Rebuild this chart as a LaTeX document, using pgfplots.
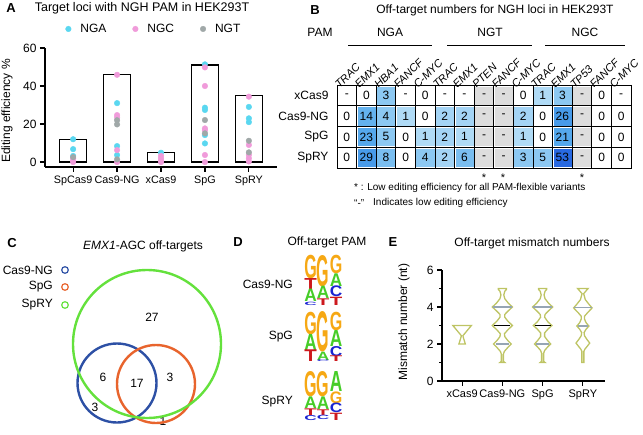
\documentclass[border=0pt]{standalone}
\usepackage{fontspec}
\setmainfont{Liberation Sans}
\setsansfont{Liberation Sans}
\usepackage{graphicx}
\usepackage{pgfplots}
\pgfplotsset{compat=1.18}

\definecolor{ngacyan}{RGB}{90,215,240}
\definecolor{ngcpink}{RGB}{240,155,218}
\definecolor{ngtgray}{RGB}{160,168,168}
\definecolor{cellgray}{RGB}{221,221,221}
\definecolor{bl1}{RGB}{176,219,246}
\definecolor{bl2}{RGB}{164,212,245}
\definecolor{bl3}{RGB}{140,200,242}
\definecolor{bl4}{RGB}{122,190,240}
\definecolor{bl5}{RGB}{100,178,238}
\definecolor{bl6}{RGB}{85,168,236}
\definecolor{bl7}{RGB}{72,155,234}
\definecolor{bl8}{RGB}{40,105,225}
\definecolor{vgreen}{RGB}{100,225,60}
\definecolor{vblue}{RGB}{45,80,165}
\definecolor{vorange}{RGB}{232,100,45}
\definecolor{vcol}{RGB}{190,196,100}
\definecolor{medgray}{RGB}{150,165,180}
\definecolor{lgG}{RGB}{246,168,20}
\definecolor{lgA}{RGB}{70,205,40}
\definecolor{lgT}{RGB}{205,25,30}
\definecolor{lgC}{RGB}{25,35,210}

\newcommand{\fs}[1]{\fontsize{#1}{#1}\selectfont}
% one letter of a sequence logo: x, top y, height, letter, colour
\newcommand{\lgl}[5]{\node[anchor=north,inner sep=0pt,text=#5] at (axis cs:#1,#2) {\resizebox{12.5pt}{#3pt}{\bfseries #4}};}

\pgfplotsset{
  panel/.style={scale only axis,
    /pgf/number format/assume math mode=true,
    yticklabel style={font=\fs{12}},
    axis line style={line width=1.2pt},
    tick style={line width=1.2pt, black},
    tick align=outside},
  cell/.style={only marks, mark=square*, mark size=8.6pt,
    point meta=explicit symbolic, nodes near coords},
}

\begin{document}
\begin{tikzpicture}[font=\fs{12}]
\useasboundingbox (0pt,0pt) rectangle (643pt,-435pt);

% ---------- A ----------
\begin{axis}[panel, at={(45pt,-167pt)}, anchor=south west,
  width=232pt, height=119pt,
  xmin=-0.64, xmax=4.64, ymin=-2.6, ymax=60,
  axis x line*=bottom, axis y line*=left,
  xtick={0,1,2,3,4}, xticklabels={SpCas9,Cas9-NG,xCas9,SpG,SpRY},
  xticklabel style={font=\fs{10.8}},
  ytick={0,20,40,60}, major tick length=5pt,
  clip=false,
  legend columns=3,
  legend image code/.code={\fill[#1] (0pt,0pt) circle (2.8pt);},
  legend style={at={(0.087,1.16)}, anchor=west, draw=none, fill=none,
    inner sep=0pt, font=\fs{12},
    /tikz/every odd column/.append style={column sep=7pt},
    /tikz/every even column/.append style={column sep=24pt}},
]
\addplot[ybar, bar width=27pt, fill=none, draw=black, line width=1.4pt, forget plot]
  coordinates {(0,12) (1,46) (2,5) (3,51) (4,35)};
\addplot[only marks, mark=*, mark size=2.8pt, color=ngacyan] coordinates {
  (0,12) (0,6.8) (0,3.2)
  (1,31) (1,8.4) (1,3.7)
  (2,4.9)
  (3,51.4) (3,28.6) (3,27.4) (3,14.2) (3,9.8)
  (4,29) (4,23) (4,21)
};
\addplot[only marks, mark=*, mark size=2.8pt, color=ngcpink] coordinates {
  (0,1.9) (0,0.7) (0,0)
  (1,45.9) (1,24.7) (1,23.5) (1,6.3) (1,0)
  (2,3.2) (2,1.9) (2,0.7) (2,0)
  (3,49.8) (3,40) (3,17.7) (3,16.8) (3,3.7) (3,0)
  (4,34.4) (4,9) (4,3.8) (4,2) (4,0.3)
};
\addplot[only marks, mark=*, mark size=2.8pt, color=ngtgray] coordinates {
  (0,2.6)
  (1,22) (1,19.8) (1,1.4)
  (3,22.1) (3,15.1)
  (4,11.2) (4,5.1)
};
\legend{NGA,NGC,NGT}
\end{axis}

% ---------- B ----------
\begin{axis}[scale only axis, at={(337pt,-168pt)}, anchor=south west,
  width=294pt, height=83pt,
  xmin=0.5, xmax=15.5, ymin=0.5, ymax=4.5, y dir=reverse,
  xtick={1,...,15},
  xticklabels={TRAC,EMX1,HBA1,FANCF,C-MYC,TRAC,EMX1,PTEN,FANCF,C-MYC,TRAC,EMX1,TP53,FANCF,C-MYC},
  xticklabel pos=upper,
  xticklabel style={font=\fs{11}\itshape, rotate=45, anchor=south west,
    inner sep=0pt, xshift=-8pt, yshift=2pt},
  ytick={1,2,3,4}, yticklabels={xCas9,Cas9-NG,SpG,SpRY},
  yticklabel style={font=\fs{12}, xshift=-5pt},
  major tick length=0pt, minor tick length=0pt,
  minor xtick={0.5,1.5,...,15.5}, minor ytick={0.5,1.5,...,4.5},
  grid=minor, minor grid style={black, line width=0.8pt},
  axis line style={black, line width=0.8pt},
  nodes near coords align={center},
  every node near coord/.append style={font=\fs{12}, text=black, anchor=center, inner sep=0pt},
]
% cells grouped by shade; the label in brackets is the cell's value
\addplot[cell, color=white] coordinates {
  (2,1) [0] (5,1) [0] (10,1) [0] (14,1) [0]
  (1,2) [0] (5,2) [0] (11,2) [0] (14,2) [0] (15,2) [0]
  (1,3) [0] (4,3) [0] (11,3) [0] (14,3) [0] (15,3) [0]
  (1,4) [0] (4,4) [0] (14,4) [0] (15,4) [0]
};
\addplot[cell, color=bl1] coordinates {
  (11,1) [1] (4,2) [1] (5,3) [1] (7,3) [1] (10,3) [1]
};
\addplot[cell, color=bl2] coordinates {
  (6,2) [2] (7,2) [2] (10,2) [2] (6,3) [2] (6,4) [2]
};
\addplot[cell, color=bl3] coordinates {
  (3,1) [3] (12,1) [3] (3,2) [4] (3,3) [5] (5,4) [4] (10,4) [3] (11,4) [5]
};
\addplot[cell, color=bl4] coordinates {
  (3,4) [8] (7,4) [6]
};
\addplot[cell, color=bl5] coordinates {
  (2,2) [14]
};
\addplot[cell, color=bl6] coordinates {
  (2,3) [23] (12,3) [21]
};
\addplot[cell, color=bl7] coordinates {
  (12,2) [26] (2,4) [29]
};
\addplot[cell, color=bl8] coordinates {
  (12,4) [53]
};
\addplot[cell, color=white] coordinates {
  (1,1) [-] (4,1) [-] (6,1) [-] (7,1) [-] (15,1) [-]
};
\addplot[cell, color=cellgray] coordinates {
  (8,1) [-] (8,2) [-] (8,3) [-] (8,4) [-]
  (9,1) [-] (9,2) [-] (9,3) [-] (9,4) [-]
  (13,1) [-] (13,2) [-] (13,3) [-] (13,4) [-]
};
\end{axis}

% ---------- E ----------
\begin{axis}[panel, at={(442pt,-381pt)}, anchor=south west,
  width=163pt, height=111pt,
  xmin=-0.5, xmax=3.55, ymin=0, ymax=6,
  axis x line*=bottom, axis y line*=left,
  xtick={0,1,2,3}, xticklabels={xCas9,Cas9-NG,SpG,SpRY},
  xticklabel style={font=\fs{11}},
  ytick={0,2,4,6}, minor ytick={1,3,5},
  major tick length=5pt, minor tick length=3pt,
  clip=false,
]
\addplot[color=vcol, line width=1.3pt] coordinates {
  (0.08,2.0) (0.03,2.35) (0.02,2.45) (0.23,3.0)
  (-0.23,3.0) (-0.02,2.45) (-0.03,2.35) (-0.08,2.0)} -- cycle;
\addplot[color=vcol, line width=1.3pt] coordinates {
  (1.06,1.0) (1.025,1.06) (1.025,1.45) (1.05,1.6) (1.13,1.8) (1.22,2.0) (1.13,2.2)
  (1.06,2.4) (1.05,2.55) (1.13,2.75) (1.25,3.0) (1.13,3.25) (1.06,3.45) (1.06,3.6)
  (1.15,3.8) (1.25,4.0) (1.15,4.2) (1.06,4.45) (1.035,4.65) (1.06,4.85) (1.1,4.95) (1.1,5.0)
  (0.9,5.0) (0.9,4.95) (0.94,4.85) (0.965,4.65) (0.94,4.45) (0.85,4.2) (0.75,4.0)
  (0.85,3.8) (0.94,3.6) (0.94,3.45) (0.87,3.25) (0.75,3.0) (0.87,2.75) (0.95,2.55)
  (0.94,2.4) (0.87,2.2) (0.78,2.0) (0.87,1.8) (0.95,1.6) (0.975,1.45) (0.975,1.06) (0.94,1.0)} -- cycle;
\addplot[color=vcol, line width=1.3pt] coordinates {
  (2.06,1.0) (2.025,1.06) (2.025,1.5) (2.05,1.65) (2.13,1.85) (2.2,2.0) (2.12,2.2)
  (2.05,2.4) (2.05,2.6) (2.13,2.8) (2.23,3.0) (2.13,3.2) (2.05,3.45) (2.06,3.6)
  (2.15,3.8) (2.25,4.0) (2.15,4.2) (2.06,4.45) (2.035,4.65) (2.06,4.85) (2.1,4.95) (2.1,5.0)
  (1.9,5.0) (1.9,4.95) (1.94,4.85) (1.965,4.65) (1.94,4.45) (1.85,4.2) (1.75,4.0)
  (1.85,3.8) (1.94,3.6) (1.95,3.45) (1.87,3.2) (1.77,3.0) (1.87,2.8) (1.95,2.6)
  (1.95,2.4) (1.88,2.2) (1.8,2.0) (1.87,1.85) (1.95,1.65) (1.975,1.5) (1.975,1.06) (1.94,1.0)} -- cycle;
\addplot[color=vcol, line width=1.3pt] coordinates {
  (3.025,1.0) (3.025,1.6) (3.05,1.72) (3.11,1.88) (3.17,2.05) (3.1,2.25) (3.04,2.45)
  (3.03,2.62) (3.08,2.8) (3.15,2.97) (3.08,3.15) (3.04,3.35) (3.04,3.5) (3.12,3.7)
  (3.23,3.95) (3.15,4.15) (3.06,4.4) (3.02,4.72) (3.13,5.0)
  (2.87,5.0) (2.98,4.72) (2.94,4.4) (2.85,4.15) (2.77,3.95) (2.88,3.7) (2.96,3.5)
  (2.96,3.35) (2.92,3.15) (2.85,2.97) (2.92,2.8) (2.97,2.62) (2.96,2.45) (2.9,2.25)
  (2.83,2.05) (2.89,1.88) (2.95,1.72) (2.975,1.6) (2.975,1.0)} -- cycle;
% quartile and median lines
\addplot[color=medgray, line width=1.5pt] coordinates {(0.76,4) (1.24,4)};
\addplot[color=black, line width=1.5pt] coordinates {(0.8,3) (1.2,3)};
\addplot[color=medgray, line width=1.5pt] coordinates {(0.83,2) (1.17,2)};
\addplot[color=medgray, line width=1.5pt] coordinates {(1.76,4) (2.24,4)};
\addplot[color=black, line width=1.5pt] coordinates {(1.8,3) (2.2,3)};
\addplot[color=medgray, line width=1.5pt] coordinates {(1.83,2) (2.17,2)};
\addplot[color=medgray, line width=1.5pt] coordinates {(2.78,3.96) (3.22,3.96)};
\addplot[color=medgray, line width=1.5pt] coordinates {(2.87,2.97) (3.13,2.97)};
\end{axis}

% ---------- text, Venn diagram, sequence logos ----------
\begin{axis}[scale only axis, at={(0pt,-435pt)}, anchor=south west,
  width=643pt, height=435pt, xmin=0, xmax=643, ymin=0, ymax=435,
  y dir=reverse, hide axis, clip=false]
% Venn circles (C)
\addplot[only marks, mark=o, mark size=39.5pt, color=vblue, mark options={line width=2.4pt}]
  coordinates {(117,383)};
\addplot[only marks, mark=o, mark size=39pt, color=vorange, mark options={line width=2.4pt}]
  coordinates {(156,384)};
\addplot[only marks, mark=o, mark size=74pt, color=vgreen, mark options={line width=2.4pt}]
  coordinates {(147,344)};
\addplot[only marks, mark=o, mark size=3.3pt, color=vblue, mark options={line width=1.2pt}]
  coordinates {(65,270)};
\addplot[only marks, mark=o, mark size=3.3pt, color=vorange, mark options={line width=1.2pt}]
  coordinates {(65,287)};
\addplot[only marks, mark=o, mark size=3.3pt, color=vgreen, mark options={line width=1.2pt}]
  coordinates {(65,305)};

% A
\node[font=\fs{13}\bfseries] at (11,8) {A};
\node[font=\fs{12.5}] at (142,8) {Target loci with NGH PAM in HEK293T};
\node[rotate=90] at (7,111) {Editing efficiency \%};

% B
\node[font=\fs{13}\bfseries] at (315,10) {B};
\node at (495,10) {Off-target numbers for NGH loci in HEK293T};
\node at (320,32) {PAM};
\node at (390,32) {NGA};
\node at (490,32) {NGT};
\node at (585,32) {NGC};
\draw[line width=0.9pt] (348,45) -- (432,45);
\draw[line width=0.9pt] (447,45) -- (532,45);
\draw[line width=0.9pt] (545,45) -- (625,45);
\node[font=\fs{11}] at (484,178) {*};
\node[font=\fs{11}] at (503,178) {*};
\node[font=\fs{11}] at (582,178) {*};
\node[anchor=west, inner sep=0pt, font=\fs{10}] at (354,188) {* : Low editing efficiency for all PAM-flexible variants};
\node[anchor=west, inner sep=0pt, font=\fs{10}] at (354,203) {“-”};
\node[anchor=west, inner sep=0pt, font=\fs{10}] at (373,203) {Indicates low editing efficiency};

% C
\node[font=\fs{13}\bfseries] at (12,243) {C};
\node at (143,246) {\textit{EMX1}-AGC off-targets};
\node[anchor=east, inner sep=0pt] at (53,270) {Cas9-NG};
\node[anchor=east, inner sep=0pt] at (53,287) {SpG};
\node[anchor=east, inner sep=0pt] at (53,305) {SpRY};
\node at (152,317) {27};
\node at (103,377) {6};
\node at (137,383) {17};
\node at (170,377) {3};
\node at (95,407) {3};
\node at (163,421) {1};

% D
\node[font=\fs{13}\bfseries] at (238,242) {D};
\node at (327,242) {Off-target PAM};
\node[anchor=east, inner sep=0pt] at (293,284) {Cas9-NG};
\node[anchor=east, inner sep=0pt] at (293,337) {SpG};
\node[anchor=east, inner sep=0pt] at (293,402) {SpRY};
% Cas9-NG logo
\lgl{310.5}{255}{23.3}{G}{lgG}
\lgl{310.5}{278.3}{11}{T}{lgT}
\lgl{310.5}{289.3}{12.4}{A}{lgA}
\lgl{310.5}{301.7}{3.3}{C}{lgC}
\lgl{323}{255}{31}{G}{lgG}
\lgl{323}{286}{12.3}{A}{lgA}
\lgl{323}{298.3}{6.7}{T}{lgT}
\lgl{336}{255}{18.3}{G}{lgG}
\lgl{336}{273.3}{12.7}{A}{lgA}
\lgl{336}{286}{10.7}{C}{lgC}
\lgl{336}{296.7}{8.3}{T}{lgT}
% SpG logo
\lgl{310.5}{311.7}{22.3}{G}{lgG}
\lgl{310.5}{334}{16}{A}{lgA}
\lgl{310.5}{350}{11.7}{T}{lgT}
\lgl{323}{311.7}{40}{G}{lgG}
\lgl{323}{351.7}{8.3}{A}{lgA}
\lgl{323}{360}{1.7}{C}{lgC}
\lgl{336}{311.7}{18.3}{G}{lgG}
\lgl{336}{330}{16}{A}{lgA}
\lgl{336}{346}{10}{C}{lgC}
\lgl{336}{356}{5.7}{T}{lgT}
% SpRY logo
\lgl{310.5}{371.7}{25}{G}{lgG}
\lgl{310.5}{396.7}{11.6}{A}{lgA}
\lgl{310.5}{408.3}{6.7}{T}{lgT}
\lgl{310.5}{415}{5}{C}{lgC}
\lgl{323}{371.7}{25}{G}{lgG}
\lgl{323}{396.7}{12.6}{A}{lgA}
\lgl{323}{409.3}{5.7}{T}{lgT}
\lgl{323}{415}{4.3}{C}{lgC}
\lgl{336}{371.7}{20}{A}{lgA}
\lgl{336}{391.7}{11.6}{G}{lgG}
\lgl{336}{403.3}{9.4}{C}{lgC}
\lgl{336}{412.7}{7.3}{T}{lgT}

% E
\node[font=\fs{13}\bfseries] at (393,242) {E};
\node at (532,243) {Off-target mismatch numbers};
\node[rotate=90] at (404,322) {Mismatch number (nt)};
\end{axis}
\end{tikzpicture}
\end{document}
